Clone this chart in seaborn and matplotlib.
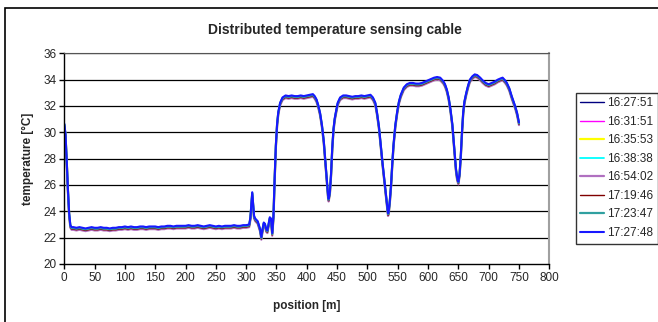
import numpy as np
import pandas as pd
import matplotlib
matplotlib.use("Agg")
import matplotlib.pyplot as plt
from matplotlib.patches import Rectangle
import seaborn as sns

# ---- data ----
positions = [0, 2, 4, 6, 8, 10, 12, 15, 20, 25, 30, 35, 40, 45, 50, 55, 60, 65, 70, 75, 80, 85, 90, 95,
             100, 105, 110, 115, 120, 125, 130, 135, 140, 145, 150, 155, 160, 165, 170, 175, 180, 185,
             190, 195, 200, 205, 210, 215, 220, 225, 230, 235, 240, 245, 250, 255, 260, 265, 270, 275,
             280, 285, 290, 295, 300, 305, 307, 309, 310, 311, 313, 315, 317, 319, 321, 323, 325, 327,
             329, 331, 333, 335, 337, 339, 341, 343, 345, 347, 349, 351, 353, 356, 360, 365, 370, 375,
             380, 385, 390, 395, 400, 405, 410, 413, 416, 419, 422, 425, 428, 431, 433, 435, 436, 438,
             440, 442, 444, 446, 448, 451, 455, 460, 465, 470, 475, 480, 485, 490, 495, 500, 505, 509,
             513, 516, 519, 522, 525, 528, 531, 533, 534, 535, 537, 539, 541, 543, 546, 549, 552, 555,
             560, 565, 570, 575, 580, 585, 590, 595, 600, 605, 610, 615, 620, 625, 628, 631, 634, 637,
             640, 642, 644, 646, 648, 650, 652, 654, 656, 658, 660, 663, 666, 669, 673, 677, 681, 686,
             690, 695, 700, 705, 710, 715, 720, 723, 727, 730, 734, 738, 741, 744, 747, 750]

base_temperature = [30.6, 29.8, 27.8, 25.6, 23.8, 22.9, 22.75, 22.75, 22.7, 22.75, 22.7, 22.65, 22.7,
                    22.75, 22.7, 22.7, 22.75, 22.7, 22.7, 22.65, 22.7, 22.7, 22.75, 22.75, 22.8, 22.75,
                    22.8, 22.75, 22.75, 22.8, 22.8, 22.75, 22.8, 22.8, 22.8, 22.75, 22.8, 22.8, 22.85,
                    22.85, 22.8, 22.85, 22.85, 22.85, 22.85, 22.9, 22.85, 22.85, 22.9, 22.85, 22.8,
                    22.85, 22.9, 22.85, 22.8, 22.85, 22.8, 22.85, 22.85, 22.85, 22.9, 22.85, 22.85,
                    22.9, 22.9, 22.95, 23.5, 24.8, 25.4, 24.8, 23.6, 23.4, 23.3, 23.2, 22.9, 22.6, 22.0,
                    22.6, 23.1, 23.0, 22.6, 22.5, 23.0, 23.5, 23.4, 22.3, 23.6, 26.5, 29.0, 30.6, 31.5,
                    32.2, 32.6, 32.75, 32.7, 32.75, 32.7, 32.7, 32.75, 32.7, 32.75, 32.8, 32.85, 32.7,
                    32.45, 32.0, 31.4, 30.5, 29.3, 27.5, 26.2, 25.2, 24.9, 25.4, 26.8, 28.8, 30.2, 31.0,
                    31.5, 32.2, 32.6, 32.75, 32.75, 32.7, 32.65, 32.7, 32.7, 32.75, 32.7, 32.75, 32.8,
                    32.6, 32.2, 31.4, 30.4, 29.0, 27.6, 26.3, 25.0, 24.2, 23.8, 23.9, 24.8, 26.0, 27.6,
                    29.0, 30.5, 31.5, 32.3, 32.8, 33.35, 33.6, 33.7, 33.7, 33.65, 33.65, 33.7, 33.8,
                    33.9, 34.0, 34.1, 34.15, 34.1, 33.85, 33.6, 33.2, 32.6, 31.7, 30.6, 29.5, 28.4,
                    27.2, 26.5, 26.2, 26.8, 28.2, 30.0, 31.5, 32.3, 32.95, 33.5, 33.95, 34.2, 34.35,
                    34.3, 34.1, 33.9, 33.7, 33.6, 33.7, 33.8, 33.95, 34.05, 34.1, 33.9, 33.7, 33.3,
                    32.7, 32.3, 31.9, 31.4, 30.7]

times = ["16:27:51", "16:31:51", "16:35:53", "16:38:38", "16:54:02", "17:19:46", "17:23:47", "17:27:48"]
offsets = [0.0, -0.1, -0.05, 0.0, -0.15, -0.1, -0.02, 0.05]
colors = ["#000080", "#FF00FF", "#FFFF00", "#00FFFF", "#B070C0", "#800000", "#30A0A0", "#1818FF"]
widths = [1.0, 1.0, 1.6, 1.3, 1.6, 1.0, 1.6, 1.5]

y_ticks = [20, 22, 24, 26, 28, 30, 32, 34, 36]
x_ticks = list(range(0, 801, 50))

rows = []
for t, off in zip(times, offsets):
    for p, v in zip(positions, base_temperature):
        rows.append({"position": p, "temperature": v + off, "time": t})
df = pd.DataFrame(rows)

# ---- figure ----
sns.set_style("white")
plt.rcParams["font.family"] = ["Liberation Sans", "DejaVu Sans"]

W, H = 658, 322
fig = plt.figure(figsize=(W / 100, H / 100), dpi=100)
L, R, T, B = 64.3, 549.3, 53.3, 264.0
ax = fig.add_axes([L / W, 1 - B / H, (R - L) / W, (B - T) / H])

for t, c, lw in zip(times, colors, widths):
    sns.lineplot(data=df[df["time"] == t], x="position", y="temperature", color=c,
                 linewidth=lw, label=t, ax=ax, estimator=None, sort=False)

ax.set_xlim(0, 800)
ax.set_ylim(20, 36)
ax.set_xticks(x_ticks)
ax.set_yticks(y_ticks)
ax.tick_params(axis="both", labelsize=8.5, direction="out", length=3.5, width=1,
               color="black", pad=2, left=True, bottom=True)
for yv in y_ticks[1:-1]:
    ax.axhline(yv, color="black", linewidth=0.9, zorder=0)
ax.axhline(36, color="#555555", linewidth=1.0, zorder=0)
ax.spines["left"].set_color("black")
ax.spines["bottom"].set_color("black")
ax.spines["left"].set_linewidth(1.0)
ax.spines["bottom"].set_linewidth(1.0)
ax.spines["top"].set_color("#555555")
ax.spines["right"].set_color("#a0a0a0")
ax.spines["right"].set_linewidth(1.5)

ax.set_xlabel("position [m]", fontsize=8.5, fontweight="bold", labelpad=12)
ax.set_ylabel("temperature [°C]", fontsize=8.5, fontweight="bold", labelpad=7)

fig.text(334.5 / W, 1 - 30 / H, "Distributed temperature sensing cable", fontsize=10,
         fontweight="bold", ha="center", va="center")

leg = ax.legend(loc="upper left", bbox_to_anchor=(575.5 / W, 1 - 92.7 / H),
                bbox_transform=fig.transFigure, fontsize=8.5, frameon=True, fancybox=False,
                edgecolor="black", handlelength=2.0, handletextpad=0.3, labelspacing=0.55,
                borderpad=0.4, borderaxespad=0)
leg.get_frame().set_linewidth(1.0)

fig.patches.append(Rectangle((4.5 / W, -0.1), 2.0, 1 - 8.5 / H + 0.1, transform=fig.transFigure,
                             fill=False, edgecolor="black", linewidth=1.2))

fig.savefig("out.png", dpi=100)
